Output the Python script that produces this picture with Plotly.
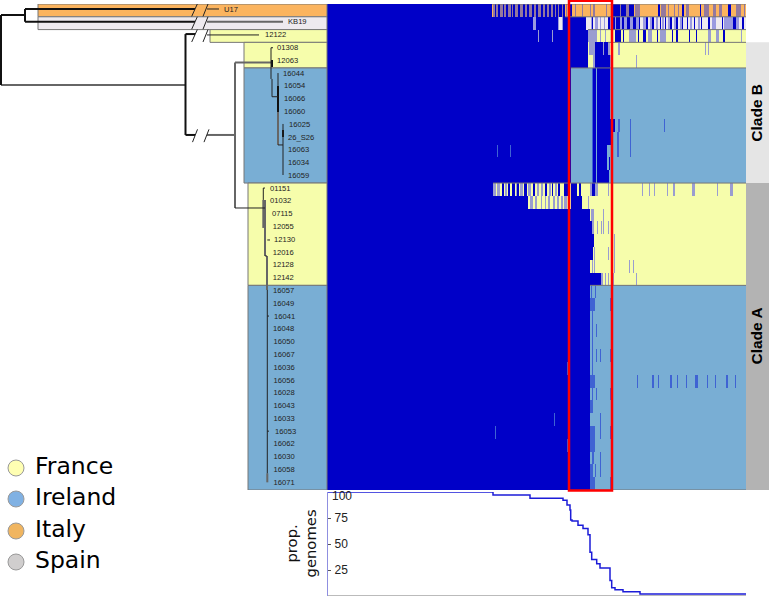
import numpy as np
import plotly.graph_objects as go

# genome rows, top to bottom
genomes = ['U17', 'KB19', '12122', '01308', '12063', '16044', '16054', '16066', '16060', '16025',
           '26_S26', '16063', '16034', '16059', '01151', '01032', '07115', '12055', '12130', '12016',
           '12128', '12142', '16057', '16049', '16041', '16048', '16050', '16067', '16036', '16056',
           '16028', '16043', '16033', '16053', '16062', '16030', '16058', '16071']
# 0 France, 1 Ireland, 2 Italy, 3 Spain
country = [2, 3, 0, 0, 0] + [1] * 9 + [0] * 8 + [1] * 16
label_x = [224, 288, 265, 277, 277, 283, 284, 284, 284, 289, 288, 288, 288, 288, 270, 270, 272, 272.7, 274,
           272.7, 272.7, 272.7, 273, 273, 274, 273, 273.5, 273.5, 273.5, 273.5, 273.5, 273.5, 273.5, 275,
           273.5, 273.5, 273.5, 273.5]

# gene columns run from 327 to 746 along the shared x axis
solid_end = [492, 533, 588, 588, 588, 571, 571, 571, 571, 571, 571, 571, 571, 571,
             493, 528, 590, 592, 594, 593, 590, 601] + [590] * 16

present = {
    0: [(495, 496), (498, 500), (503, 504), (506, 508), (511, 512), (513, 515), (518, 520), (523, 525), (527, 529),
        (532, 534), (536, 538), (541, 543), (545, 547), (549, 551), (553, 555), (556, 558), (559, 562), (563, 565),
        (570, 572), (612, 620), (621, 626), (629, 634), (658, 660), (682, 684), (700, 701), (728, 731)],
    1: [(536, 558), (563, 586), (592, 593), (608, 610), (612, 615), (616, 620), (622, 624), (627, 630), (633, 636),
        (639, 640), (646, 648), (652, 654), (660, 661), (665, 666), (670, 672), (676, 678), (682, 683), (687, 688),
        (694, 695), (701, 702), (708, 710), (722, 723), (733, 736), (742, 744)],
    2: [(615, 621), (623, 624), (638, 639), (643, 646), (657, 658), (672, 673), (676, 678), (689, 690), (696, 697),
        (723, 725)],
    3: [(595, 603), (604, 608)],
    4: [(595, 610)],
    5: [(593, 596), (597, 610)], 6: [(593, 596), (597, 610)], 7: [(593, 596), (597, 610)], 8: [(593, 596), (597, 610)],
    9: [(593, 596), (597, 611), (613, 615)], 10: [(593, 596), (597, 612)], 11: [(593, 596), (597, 607), (612, 613)],
    12: [(593, 596), (597, 607), (609, 610)], 13: [(593, 596), (597, 609)],
    14: [(502, 504), (508, 510), (512, 515), (517, 519), (524, 527), (533, 535), (545, 547), (552, 553), (558, 560),
         (564, 570), (571, 577), (579, 581), (592, 595)],
    15: [(568, 570), (571, 582)],
}
faint = {
    0: [(493, 495), (496, 498), (500, 503), (504, 506), (508, 511), (512, 513), (515, 518), (520, 523), (525, 527),
        (529, 532), (534, 536), (538, 541), (543, 545), (547, 549), (551, 553), (555, 556), (558, 559), (562, 563),
        (566, 567), (575, 576), (582, 583), (590, 591), (593, 595), (606, 607), (620, 621), (626, 629), (635, 640),
        (661, 666), (668, 669), (674, 675), (678, 679), (686, 689), (704, 709), (713, 716), (719, 722), (736, 741),
        (744, 745)],
    1: [(533, 536), (558, 559), (562, 563), (591, 592), (595, 598), (600, 601), (604, 605), (610, 612), (615, 616),
        (620, 622), (624, 627), (630, 633), (636, 639), (643, 646), (650, 652), (656, 658), (662, 664), (668, 670),
        (674, 676), (680, 682), (690, 692), (698, 700), (712, 716), (724, 733), (736, 739)],
    2: [(538, 539), (552, 553), (588, 597), (600, 601), (605, 606), (612, 613), (616, 619), (629, 636), (648, 652),
        (660, 666), (708, 711), (716, 719), (741, 742)],
    3: [(589, 595), (603, 604), (608, 610), (618, 620), (705, 706), (708, 709)],
    4: [(593, 595), (610, 612), (636, 637)],
    5: [(592, 593)], 6: [(592, 593)], 7: [(592, 593)], 8: [(592, 593)],
    9: [(592, 593), (618, 620), (630, 631), (664, 665)],
    10: [(592, 593), (617, 619), (630, 631)],
    11: [(497, 498), (510, 511), (592, 593), (617, 619), (630, 631)],
    12: [(592, 593)], 13: [(592, 593)],
    14: [(493, 496), (497, 500), (505, 507), (516, 517), (520, 523), (528, 531), (537, 539), (541, 543), (549, 551),
         (555, 557), (590, 592), (595, 598), (608, 609), (642, 643), (649, 650), (654, 655), (667, 668), (673, 675),
         (692, 695), (717, 718), (730, 733)],
    15: [(530, 533), (535, 537), (541, 542), (545, 546), (548, 550), (553, 555), (557, 559), (561, 563), (564, 567),
         (588, 589)],
    16: [(591, 594), (603, 604)],
    17: [(592, 594), (597, 598), (601, 602), (603, 604), (608, 609)],
    18: [(614, 615)],
    19: [(594, 595), (608, 609), (614, 615)],
    20: [(592, 593), (594, 595), (614, 615), (629, 630), (633, 634)],
    21: [(601, 603), (605, 606), (608, 609), (613, 614), (636, 637)],
    22: [(591, 592), (595, 596)], 23: [(590, 595), (610, 611)], 24: [(592, 593)],
    25: [(592, 593), (596, 597)], 26: [(592, 593)],
    27: [(592, 593), (596, 597), (600, 601), (610, 611)],
    28: [(567, 568), (592, 593)],
    29: [(590, 595), (637, 638), (652, 654), (658, 659), (670, 672), (677, 678), (686, 687), (695, 698), (707, 708),
         (715, 716), (726, 728), (735, 736)],
    30: [(592, 593), (596, 597), (610, 611)],
    31: [(590, 593)],
    32: [(554, 555), (600, 601)],
    33: [(495, 496), (590, 595), (600, 601), (610, 611)],
    34: [(567, 568), (590, 595)],
    35: [(592, 594), (600, 601)],
    36: [(590, 593), (595, 596), (600, 601)],
    37: [(590, 595), (610, 611)],
}

# tree branches: x0, row0, x1, row1
tree_thick = [(1, 0.36, 25, 0.36), (25, -0.11, 25, 0.88), (25, -0.11, 195, -0.11), (25, 0.88, 195, 0.88),
              (1, 0.36, 1, 5.83), (185.5, 1.85, 185.5, 9.74), (185.5, 1.85, 195, 1.85), (185.5, 9.74, 195, 9.74),
              (272, 3.88, 272, 4.43), (278, 5.91, 278, 7.94), (283, 9.35, 283, 9.9)]
tree_grey = [(1, 5.83, 185.5, 5.83), (207, 0.88, 283, 0.88), (207, 9.74, 235, 9.74), (235, 4.07, 235, 15.45),
             (235, 4.07, 271, 4.07), (278, 7.94, 278, 10.52), (263.3, 14.82, 263.3, 17.01), (265, 14.82, 265, 19.2),
             (267, 19.2, 267, 21.86), (267.3, 36.2, 267.3, 36.9)]
tree_thin = [(207, -0.11, 219, -0.11), (207, 1.92, 259, 1.92), (235, 15.45, 265, 15.45), (271, 2.92, 271, 5.36),
             (271, 2.92, 273, 2.92), (272, 5.36, 272, 6.75), (272, 6.75, 278, 6.75), (278, 4.9, 278, 5.91),
             (278, 10.52, 283, 10.52), (283, 8.88, 283, 12.87), (263.3, 13.89, 263.3, 14.82), (263.3, 13.89, 265, 13.89),
             (265, 19.2, 267, 19.2), (267.3, 21.86, 267.3, 36.2), (267.3, 17.95, 270, 17.95), (267.3, 23.9, 269, 23.9),
             (267.3, 32.9, 269, 32.9),
             (191.7, 0.47, 197.3, -0.5), (203, 0.47, 208, -0.5), (191.7, 1.47, 197.3, 0.5), (203, 1.47, 208, 0.5),
             (191.7, 2.47, 197.3, 1.5), (203, 2.47, 208, 1.5), (192.5, 10.3, 197.5, 9.3), (204, 10.3, 209, 9.3)]

# coloured blocks behind the tree labels
block_row = [0, 1, 2, 3.5, 9, 17.5, 29.5]
block_size = [1, 1, 1, 2, 9, 8, 16]
block_start = [38, 38, 210, 244, 244, 248, 248]
block_country = [2, 3, 0, 0, 1, 0, 1]
sep_row = [-0.5, 0.5, 1.5, 2.5, 4.5, 13.5, 21.5, 37.5]
sep_start = [492, 565, 588, 608, 571, 493, 590, 590]

clade_row = [0.5 + 0.5, 8, 25.5]
clade_size = [3, 11, 24]
clade_color = ['white', '#e5e5e5', '#b3b3b3']

# share of genomes holding each gene column
prop_x = [327, 493, 530, 563, 567, 570, 570.7, 572, 578, 583, 588, 590, 591.7, 596.7, 600, 610, 611.7, 615, 623,
          640, 746]
prop_y = [100, 97, 94, 92, 87.5, 82.7, 73, 72, 68, 65, 59, 42, 35, 31, 27, 15, 8, 6, 4, 2, 2]

# country key, on the full-height extra axis
legend_names = ['France', 'Ireland', 'Italy', 'Spain']
legend_y = [468, 499, 531, 562]
legend_colors = ['#ffffb3', '#80b1e3', '#f0b560', '#d0cece']
band_colors = ['#f6fdab', '#79aed4', '#fbb45f', '#eeeaef']
faint_colors = ['#9a9dd0', '#3f63d3', '#94789e', '#9a9ae0']
SOLID = '#0000c8'

columns = np.arange(327, 746)
z = np.zeros((len(genomes), len(columns)))
for i, c in enumerate(country):
    z[i, :] = c
    z[i, columns < solid_end[i]] = 4
    for a, b in faint.get(i, []):
        z[i, (columns >= a) & (columns < b)] = 5 + c
    for a, b in present.get(i, []):
        z[i, (columns >= a) & (columns < b)] = 4

codes = band_colors + [SOLID] + faint_colors
colorscale = []
for k, col in enumerate(codes):
    colorscale += [[k / len(codes), col], [(k + 1) / len(codes), col]]


def segments(branches):
    xs, ys = [], []
    for x0, y0, x1, y1 in branches:
        xs += [x0, x1, None]
        ys += [y0, y1, None]
    return xs, ys


fig = go.Figure()
fig.add_trace(go.Heatmap(x=columns + 0.5, y=list(range(len(genomes))), z=z, zmin=-0.5, zmax=8.5,
                         colorscale=colorscale, showscale=False, hoverinfo='skip'))
fig.add_trace(go.Bar(orientation='h', y=block_row, width=block_size, base=block_start,
                     x=[327 - s for s in block_start], showlegend=False, hoverinfo='skip',
                     marker=dict(color=[band_colors[c] for c in block_country], line=dict(color='#777777', width=1))))
fig.add_trace(go.Bar(orientation='h', y=clade_row, width=clade_size, base=[746] * 3, x=[23] * 3, showlegend=False,
                     hoverinfo='skip', marker=dict(color=clade_color, line=dict(width=0))))

sx, sy = [], []
for r, s in zip(sep_row, sep_start):
    sx += [s, 746, None]
    sy += [r, r, None]
fig.add_trace(go.Scatter(x=sx, y=sy, mode='lines', line=dict(color='#777777', width=1), showlegend=False,
                         hoverinfo='skip'))

for branches, col, w in [(tree_grey, '#666666', 2), (tree_thick, '#111111', 2), (tree_thin, '#222222', 1)]:
    tx, ty = segments(branches)
    fig.add_trace(go.Scatter(x=tx, y=ty, mode='lines', line=dict(color=col, width=w), showlegend=False,
                             hoverinfo='skip'))

fig.add_trace(go.Scatter(x=label_x, y=[i - 0.05 for i in range(len(genomes))], text=genomes, mode='text',
                         textposition='middle right', showlegend=False, hoverinfo='skip',
                         textfont=dict(family='Liberation Sans', size=7.6, color='#222222')))

# coverage curve below the matrix
fig.add_trace(go.Scatter(x=prop_x, y=prop_y, yaxis='y2', mode='lines', line=dict(color='#1c1cd8', width=1.5, shape='hv'),
                         showlegend=False, hoverinfo='skip'))
fig.add_trace(go.Scatter(x=[327, 746], y=[0, 0], yaxis='y2', mode='lines', line=dict(color='#777777', width=1),
                         showlegend=False, hoverinfo='skip', cliponaxis=False))

fig.add_trace(go.Scatter(x=[16] * 4, y=legend_y, yaxis='y3', mode='markers', showlegend=False, hoverinfo='skip',
                         marker=dict(color=legend_colors, size=16, line=dict(color='#999999', width=1))))
fig.add_trace(go.Scatter(x=[35] * 4, y=legend_y, yaxis='y3', text=legend_names, mode='text', textposition='middle right',
                         showlegend=False, hoverinfo='skip',
                         textfont=dict(family='DejaVu Sans', size=23.5, color='black')))
# the top tick label sits just under the panel edge, where the axis would drop it
fig.add_trace(go.Scatter(x=[332], y=[497], yaxis='y3', text=['100'], mode='text', textposition='middle right',
                         showlegend=False, hoverinfo='skip',
                         textfont=dict(family='Liberation Sans', size=12, color='#222222')))

fig.add_shape(type='rect', xref='x', yref='paper', x0=569, x1=612, y0=1 - 490.5 / 597, y1=1 - 0.8 / 597,
              line=dict(color='#ff0000', width=2.5))

fig.add_annotation(x=757, y=8, text='<b>Clade B</b>', textangle=-90, showarrow=False,
                   font=dict(family='Liberation Sans', size=15.5, color='black'))
fig.add_annotation(x=757, y=25.5, text='<b>Clade A</b>', textangle=-90, showarrow=False,
                   font=dict(family='Liberation Sans', size=15.5, color='black'))
fig.add_annotation(x=300.5, y=50, yref='y2', text='prop.<br>genomes', textangle=-90, showarrow=False,
                   font=dict(family='DejaVu Sans', size=14.8, color='#111111'))

fig.update_layout(
    width=769, height=597, margin=dict(l=0, r=0, t=0, b=0), paper_bgcolor='white', plot_bgcolor='rgba(0,0,0,0)',
    barmode='overlay', hovermode=False, showlegend=False,
    xaxis=dict(range=[0, 769], domain=[0, 1], visible=False),
    yaxis=dict(range=[37.5, -0.5], domain=[1 - 490 / 597, 1 - 4 / 597], visible=False),
    yaxis2=dict(range=[0, 100], domain=[1 - 596 / 597, 1 - 492 / 597], anchor='free', position=327 / 769,
                tickvals=[25, 50, 75], ticks='inside', ticklen=3, ticklabelstandoff=3,
                ticklabelposition='inside', showgrid=False, zeroline=False, showline=True,
                linecolor='#8f8fe0', linewidth=1, tickcolor='#555555',
                tickfont=dict(family='Liberation Sans', size=12, color='#222222')),
    yaxis3=dict(range=[597, 0], domain=[0, 1], visible=False),
)

fig.write_html("out.html", config={'displayModeBar': False}, post_script="document.body.style.margin='0';")
